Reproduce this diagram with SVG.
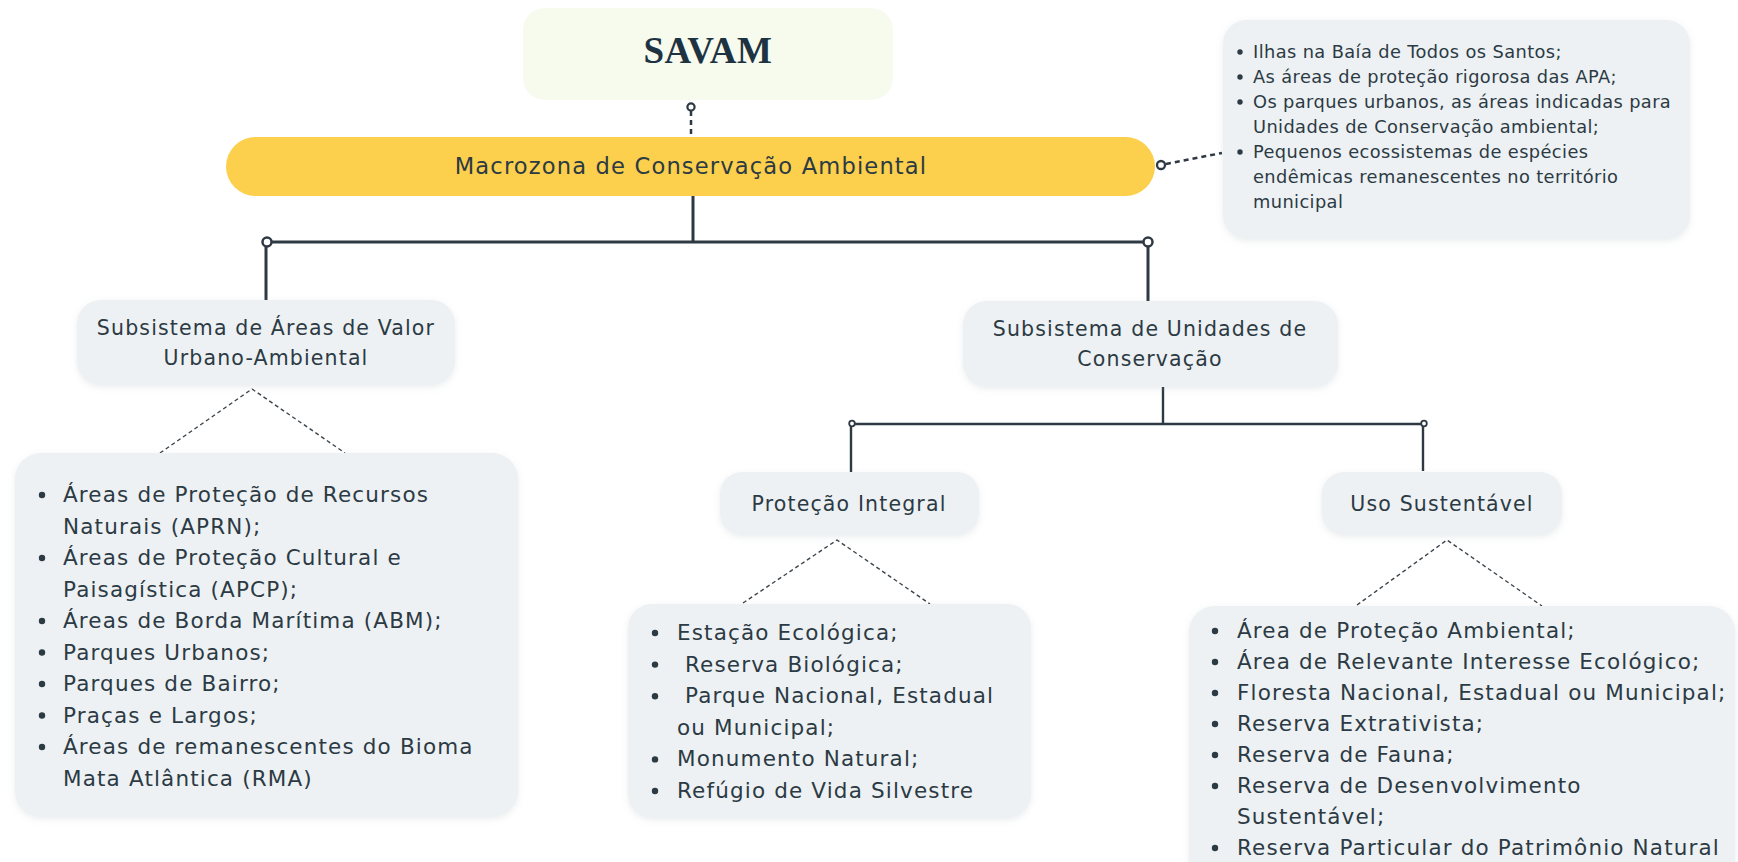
<svg xmlns="http://www.w3.org/2000/svg" width="1738" height="862" viewBox="0 0 1738 862">
<defs>
<filter id="sh" x="-10%" y="-10%" width="120%" height="130%">
<feDropShadow dx="0" dy="2" stdDeviation="3" flood-color="#8a969e" flood-opacity="0.18"/>
</filter>
</defs>
<style>
.bg{fill:#ffffff}
.node{fill:#edf1f3;filter:url(#sh)}
.t{font-family:"DejaVu Sans","Noto Sans",sans-serif;fill:#2c3a44;letter-spacing:1.15px}
.n{font-size:20.5px}
.l{font-size:21.5px}
.s{font-size:17.8px;letter-spacing:0.4px}
.c{text-anchor:middle}
.solid{stroke:#2e3943;fill:none;stroke-linecap:butt}
.dash{stroke:#2e3943;fill:none;stroke-dasharray:5 4}
.thin{stroke:#3a444c;fill:none;stroke-width:1.4;stroke-dasharray:4 3}
.dot{fill:#ffffff;stroke:#2e3943}
.b{fill:#2c3a44}
</style>
<rect class="bg" x="0" y="0" width="1738" height="862"/>

<g id="connectors">
  <line class="dash" x1="691" y1="111" x2="691" y2="137" stroke-width="2.5"/>
  <circle class="dot" cx="691" cy="107" r="3.6" stroke-width="2.2"/>
  <line class="solid" x1="693" y1="196" x2="693" y2="242" stroke-width="3"/>
  <line class="solid" x1="267" y1="242" x2="1148" y2="242" stroke-width="3"/>
  <line class="solid" x1="266" y1="242" x2="266" y2="301" stroke-width="3"/>
  <line class="solid" x1="1148" y1="242" x2="1148" y2="301" stroke-width="3"/>
  <circle class="dot" cx="267" cy="242" r="4.5" stroke-width="2.5"/>
  <circle class="dot" cx="1148" cy="242" r="4.5" stroke-width="2.5"/>
  <line class="dash" x1="1166" y1="164" x2="1222" y2="153" stroke-width="2.5"/>
  <circle class="dot" cx="1161" cy="165" r="4" stroke-width="2.3"/>
  <line class="solid" x1="1163" y1="387" x2="1163" y2="424" stroke-width="2.4"/>
  <line class="solid" x1="852" y1="424" x2="1424" y2="424" stroke-width="2.4"/>
  <line class="solid" x1="851" y1="424" x2="851" y2="472" stroke-width="2.4"/>
  <line class="solid" x1="1423" y1="424" x2="1423" y2="471" stroke-width="2.4"/>
  <circle class="dot" cx="852" cy="423.5" r="2.8" stroke-width="1.8"/>
  <circle class="dot" cx="1424" cy="423.5" r="2.8" stroke-width="1.8"/>
  <polyline class="thin" points="160,453 252,389 345,453"/>
  <polyline class="thin" points="743,603 837,540 930,604"/>
  <polyline class="thin" points="1357,605 1447,540 1542,606"/>
</g>

<g id="savam">
  <rect x="523" y="8" width="370" height="92" rx="22" fill="#f6fbee"/>
  <text x="708" y="63" text-anchor="middle" font-family="'Liberation Serif',serif" font-weight="bold" font-size="37" letter-spacing="0.6" fill="#1e3342">SAVAM</text>
</g>

<g id="macrozona">
  <rect x="226" y="137" width="929" height="59" rx="29.5" fill="#fccf4c"/>
  <text class="t c" x="691" y="174" font-size="22.6">Macrozona de Conservação Ambiental</text>
</g>

<g id="info">
  <rect class="node" x="1223" y="20" width="467" height="219" rx="24"/>
  <g class="b">
    <circle cx="1240" cy="52" r="2.7"/>
    <circle cx="1240" cy="77" r="2.7"/>
    <circle cx="1240" cy="102" r="2.7"/>
    <circle cx="1240" cy="152" r="2.7"/>
  </g>
  <text class="t s" x="1253" y="58">Ilhas na Baía de Todos os Santos;</text>
  <text class="t s" x="1253" y="83">As áreas de proteção rigorosa das APA;</text>
  <text class="t s" x="1253" y="108">Os parques urbanos, as áreas indicadas para</text>
  <text class="t s" x="1253" y="133">Unidades de Conservação ambiental;</text>
  <text class="t s" x="1253" y="158">Pequenos ecossistemas de espécies</text>
  <text class="t s" x="1253" y="183">endêmicas remanescentes no território</text>
  <text class="t s" x="1253" y="208">municipal</text>
</g>

<g id="sub-areas">
  <rect class="node" x="77" y="300" width="378" height="85" rx="24"/>
  <text class="t n c" x="266" y="335">Subsistema de Áreas de Valor</text>
  <text class="t n c" x="266" y="365">Urbano-Ambiental</text>
</g>

<g id="sub-unidades">
  <rect class="node" x="963" y="301" width="375" height="86" rx="24"/>
  <text class="t n c" x="1150" y="336">Subsistema de Unidades de</text>
  <text class="t n c" x="1150" y="366">Conservação</text>
</g>

<g id="protecao">
  <rect class="node" x="720" y="472" width="259" height="63" rx="22"/>
  <text class="t n c" x="849" y="511">Proteção Integral</text>
</g>

<g id="uso">
  <rect class="node" x="1322" y="472" width="240" height="63" rx="22"/>
  <text class="t n c" x="1442" y="511">Uso Sustentável</text>
</g>

<g id="lista-areas">
  <rect class="node" x="15" y="453" width="503" height="364" rx="26"/>
  <g class="b">
    <circle cx="42" cy="495" r="3.2"/>
    <circle cx="42" cy="558" r="3.2"/>
    <circle cx="42" cy="621" r="3.2"/>
    <circle cx="42" cy="652.5" r="3.2"/>
    <circle cx="42" cy="684" r="3.2"/>
    <circle cx="42" cy="715.5" r="3.2"/>
    <circle cx="42" cy="747" r="3.2"/>
  </g>
  <text class="t l" x="63" y="502">Áreas de Proteção de Recursos</text>
  <text class="t l" x="63" y="533.5">Naturais (APRN);</text>
  <text class="t l" x="63" y="565">Áreas de Proteção Cultural e</text>
  <text class="t l" x="63" y="596.5">Paisagística (APCP);</text>
  <text class="t l" x="63" y="628">Áreas de Borda Marítima (ABM);</text>
  <text class="t l" x="63" y="659.5">Parques Urbanos;</text>
  <text class="t l" x="63" y="691">Parques de Bairro;</text>
  <text class="t l" x="63" y="722.5">Praças e Largos;</text>
  <text class="t l" x="63" y="754">Áreas de remanescentes do Bioma</text>
  <text class="t l" x="63" y="785.5">Mata Atlântica (RMA)</text>
</g>

<g id="lista-protecao">
  <rect class="node" x="628" y="604" width="403" height="214" rx="24"/>
  <g class="b">
    <circle cx="655" cy="633" r="3.2"/>
    <circle cx="655" cy="664.6" r="3.2"/>
    <circle cx="655" cy="696.2" r="3.2"/>
    <circle cx="655" cy="759.4" r="3.2"/>
    <circle cx="655" cy="791" r="3.2"/>
  </g>
  <text class="t l" x="677" y="640">Estação Ecológica;</text>
  <text class="t l" x="677" y="671.6" xml:space="preserve"> Reserva Biológica;</text>
  <text class="t l" x="677" y="703.2" xml:space="preserve"> Parque Nacional, Estadual</text>
  <text class="t l" x="677" y="734.8">ou Municipal;</text>
  <text class="t l" x="677" y="766.4">Monumento Natural;</text>
  <text class="t l" x="677" y="798">Refúgio de Vida Silvestre</text>
</g>

<g id="lista-uso">
  <rect class="node" x="1189" y="606" width="546" height="300" rx="26"/>
  <g class="b">
    <circle cx="1215" cy="631" r="3.2"/>
    <circle cx="1215" cy="662" r="3.2"/>
    <circle cx="1215" cy="693" r="3.2"/>
    <circle cx="1215" cy="724" r="3.2"/>
    <circle cx="1215" cy="755" r="3.2"/>
    <circle cx="1215" cy="786" r="3.2"/>
    <circle cx="1215" cy="848" r="3.2"/>
  </g>
  <text class="t l" x="1237" y="638">Área de Proteção Ambiental;</text>
  <text class="t l" x="1237" y="669">Área de Relevante Interesse Ecológico;</text>
  <text class="t l" x="1237" y="700">Floresta Nacional, Estadual ou Municipal;</text>
  <text class="t l" x="1237" y="731">Reserva Extrativista;</text>
  <text class="t l" x="1237" y="762">Reserva de Fauna;</text>
  <text class="t l" x="1237" y="793">Reserva de Desenvolvimento</text>
  <text class="t l" x="1237" y="824">Sustentável;</text>
  <text class="t l" x="1237" y="855">Reserva Particular do Patrimônio Natural</text>
</g>
</svg>
